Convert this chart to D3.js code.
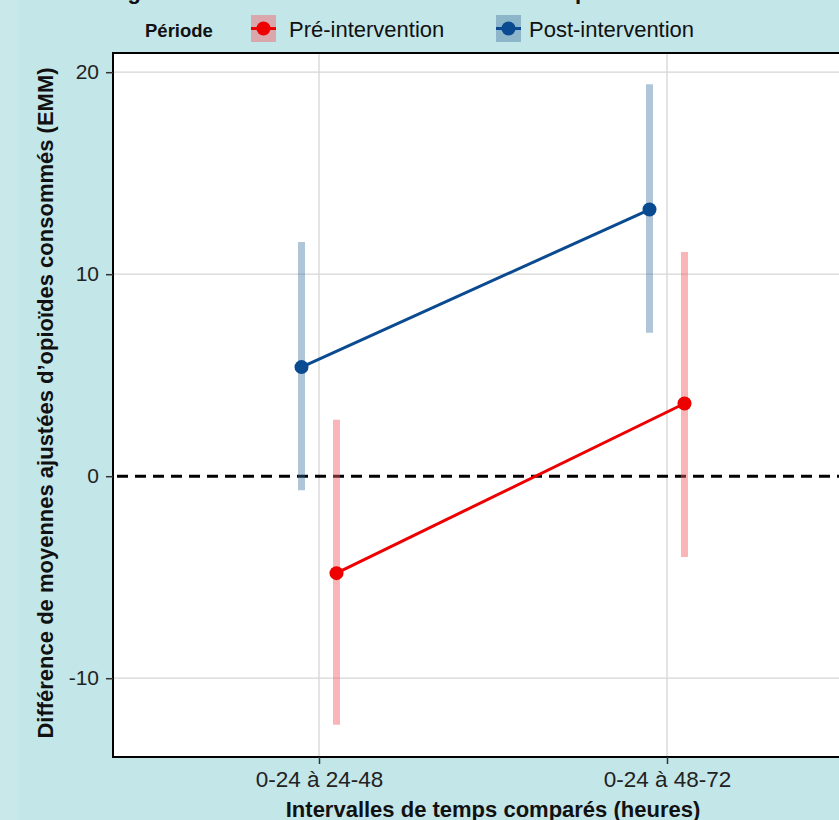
<!DOCTYPE html>
<html><head><meta charset="utf-8">
<script src="https://cdn.jsdelivr.net/npm/d3@7"></script>
<style>
html,body{margin:0;padding:0;background:#c3e6e8;overflow:hidden}
svg{display:block;font-family:"Liberation Sans",Arial,sans-serif}
</style></head><body>
<svg id="c" width="839" height="820"></svg>
<script>
const categories = ["0-24 à 24-48", "0-24 à 48-72"];
const periods = ["Pré-intervention", "Post-intervention"];
const preEstimate = [-4.8, 3.6];
const preLower = [-12.3, -4.0];
const preUpper = [2.8, 11.1];
const postEstimate = [5.4, 13.2];
const postLower = [-0.7, 7.1];
const postUpper = [11.6, 19.4];
const yTicks = [-10, 0, 10, 20];
const lineColors = ["#ee0000", "#0a4a90"];
const barColors = ["rgba(245,90,100,0.45)", "rgba(60,110,160,0.40)"];

const series = [
  {name: periods[0], est: preEstimate, lo: preLower, hi: preUpper, dodge: 1},
  {name: periods[1], est: postEstimate, lo: postLower, hi: postUpper, dodge: -1}
];

const svg = d3.select("#c");
svg.append("rect").attr("x",0).attr("y",0).attr("width",18).attr("height",820).attr("fill","#c8e8ea");

const pLeft = 113, pTop = 53, pBottom = 757, pRight = 876;
const x = d3.scalePoint().domain(categories).range([319, 667]);
const dodgeW = 17.5;
const y = d3.scaleLinear().domain([-13.9, 20.95]).range([pBottom, pTop]);

// title (cut off at top edge, as in the reference)
svg.append("text").attr("x",108).attr("y",-1).attr("font-size",22).attr("font-weight","bold")
  .attr("fill","#111").text("Figure 2. Différence des EMM entre les deux périodes d’intervention");

// panel
svg.append("rect").attr("x",pLeft).attr("y",pTop).attr("width",pRight-pLeft).attr("height",pBottom-pTop).attr("fill","#ffffff");

const g = svg.append("g");
// grid
g.selectAll("line.hg").data(yTicks.filter(d=>d!==0)).join("line")
  .attr("x1",pLeft).attr("x2",pRight).attr("y1",d=>y(d)).attr("y2",d=>y(d))
  .attr("stroke","#d6d6d6").attr("stroke-width",1.3);
g.selectAll("line.vg").data(categories).join("line")
  .attr("x1",d=>x(d)).attr("x2",d=>x(d)).attr("y1",pTop).attr("y2",pBottom)
  .attr("stroke","#d6d6d6").attr("stroke-width",1.3);
// zero line
g.append("line").attr("x1",pLeft).attr("x2",pRight).attr("y1",y(0)).attr("y2",y(0))
  .attr("stroke","#000").attr("stroke-width",3).attr("stroke-dasharray","11,7").attr("stroke-dashoffset",-4);

// error bars
series.forEach((s,i)=>{
  const xs = categories.map(c=>x(c)+s.dodge*dodgeW);
  g.selectAll(null).data(categories).join("line")
    .attr("x1",(d,j)=>xs[j]).attr("x2",(d,j)=>xs[j])
    .attr("y1",(d,j)=>y(s.lo[j])).attr("y2",(d,j)=>y(s.hi[j]))
    .attr("stroke",barColors[i]).attr("stroke-width",7);
});
series.forEach((s,i)=>{
  const xs = categories.map(c=>x(c)+s.dodge*dodgeW);
  g.append("path").datum(s.est)
    .attr("d", d3.line().x((d,j)=>xs[j]).y(d=>y(d)))
    .attr("fill","none").attr("stroke",lineColors[i]).attr("stroke-width",3);
  g.selectAll(null).data(s.est).join("circle")
    .attr("cx",(d,j)=>xs[j]).attr("cy",d=>y(d)).attr("r",7).attr("fill",lineColors[i]);
});

// panel border (left, top, bottom)
svg.append("path").attr("d",`M${pRight},${pTop}H${pLeft}V${pBottom}H${pRight}`).attr("fill","none").attr("stroke","#000").attr("stroke-width",2);

// axes
const ya = svg.append("g").attr("transform",`translate(${pLeft},0)`)
  .call(d3.axisLeft(y).tickValues(yTicks).tickSize(7).tickPadding(7).tickFormat(d => String(d)));
ya.select(".domain").remove();
ya.selectAll("text").attr("font-size",21).attr("fill","#222").attr("font-family","Liberation Sans, Arial, sans-serif");
ya.selectAll("line").attr("stroke","#333").attr("stroke-width",1.5);

const xa = svg.append("g").attr("transform",`translate(0,${pBottom})`)
  .call(d3.axisBottom(x).tickSize(7).tickPadding(7));
xa.select(".domain").remove();
xa.selectAll("text").attr("font-size",22.5).attr("fill","#222").attr("font-family","Liberation Sans, Arial, sans-serif");
xa.selectAll("line").attr("stroke","#333").attr("stroke-width",1.5);

// axis titles
svg.append("text").attr("x",493).attr("y",817).attr("text-anchor","middle")
  .attr("font-size",22).attr("font-weight","bold").attr("fill","#111")
  .text("Intervalles de temps comparés (heures)");
svg.append("text").attr("transform","translate(53,403) rotate(-90)").attr("text-anchor","middle")
  .attr("font-size",22).attr("font-weight","bold").attr("fill","#111")
  .text("Différence de moyennes ajustées d’opioïdes consommés (EMM)");

// legend
const lg = svg.append("g");
lg.append("text").attr("x",145).attr("y",37).attr("font-size",18.5).attr("font-weight","bold").attr("fill","#111").text("Période");
const keyX = [251, 496], labX = [289, 529];
series.forEach((s,i)=>{
  lg.append("rect").attr("x",keyX[i]).attr("y",15).attr("width",25).attr("height",27).attr("fill",barColors[i]);
  lg.append("line").attr("x1",keyX[i]).attr("x2",keyX[i]+25).attr("y1",28.5).attr("y2",28.5).attr("stroke",lineColors[i]).attr("stroke-width",3);
  lg.append("circle").attr("cx",keyX[i]+12.5).attr("cy",28.5).attr("r",7).attr("fill",lineColors[i]);
  lg.append("text").attr("x",labX[i]).attr("y",36.5).attr("font-size",22).attr("fill","#111").text(s.name);
});
</script></body></html>
